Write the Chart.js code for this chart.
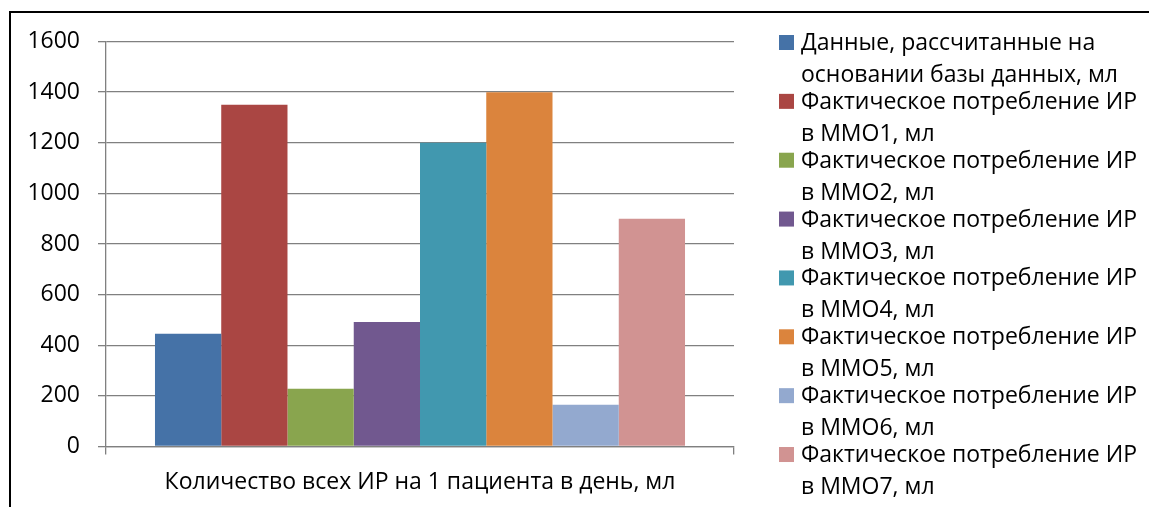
<!DOCTYPE html>
<html>
<head>
<meta charset="utf-8">
<script src="https://cdn.jsdelivr.net/npm/chart.js@4/dist/chart.umd.min.js"></script>
<style>
  html, body { margin: 0; padding: 0; background: #fff; }
  #wrap { width: 1149px; height: 507px; position: relative; }
</style>
</head>
<body>
<div id="wrap"><canvas id="c" width="1149" height="507"></canvas></div>
<script>
// ---- data ----
const categories = ['Количество всех ИР на 1 пациента в день, мл'];
const seriesLabels = [
  ['Данные, рассчитанные на', 'основании базы данных, мл'],
  ['Фактическое потребление ИР', 'в ММО1, мл'],
  ['Фактическое потребление ИР', 'в ММО2, мл'],
  ['Фактическое потребление ИР', 'в ММО3, мл'],
  ['Фактическое потребление ИР', 'в ММО4, мл'],
  ['Фактическое потребление ИР', 'в ММО5, мл'],
  ['Фактическое потребление ИР', 'в ММО6, мл'],
  ['Фактическое потребление ИР', 'в ММО7, мл']
];
const seriesValues = [445, 1350, 228, 492, 1200, 1400, 165, 900];
const yTickMin = 0, yTickMax = 1600, yTickStep = 200;

// ---- styles ----
const seriesColors = ['#4572A7', '#AA4643', '#89A54E', '#71588F', '#4198AF', '#DB843D', '#93A9CF', '#D19392'];
const FONT = "'Open Sans', 'DejaVu Sans', sans-serif";
const gridColor = '#808080';

const datasets = seriesLabels.map((lines, i) => ({
  label: lines.join(' '),
  legendLines: lines,
  data: [seriesValues[i]],
  backgroundColor: seriesColors[i],
  borderWidth: 0,
  categoryPercentage: 0.844,
  barPercentage: 1.0
}));

const frame = {
  id: 'frame',
  beforeDraw(chart) {
    const ctx = chart.ctx;
    ctx.save();
    ctx.fillStyle = '#fff';
    ctx.fillRect(0, 0, chart.width, chart.height);
    ctx.strokeStyle = '#000';
    ctx.lineWidth = 2;
    ctx.beginPath();
    ctx.moveTo(10, chart.height);
    ctx.lineTo(10, 12);
    ctx.lineTo(chart.width, 12);
    ctx.stroke();
    ctx.restore();
  }
};

const sideLegend = {
  id: 'sideLegend',
  afterDraw(chart) {
    const ctx = chart.ctx;
    ctx.save();
    ctx.font = '23px ' + FONT;
    ctx.textBaseline = 'alphabetic';
    ctx.textAlign = 'left';
    chart.data.datasets.forEach((ds, i) => {
      const y0 = 50 + i * 58.86;
      ctx.fillStyle = ds.backgroundColor;
      ctx.fillRect(779, y0 - 15, 15, 15);
      ctx.fillStyle = '#000';
      ds.legendLines.forEach((t, k) => ctx.fillText(t, 801, y0 + k * 32));
    });
    ctx.restore();
  }
};

new Chart(document.getElementById('c'), {
  type: 'bar',
  data: { labels: categories, datasets },
  plugins: [frame, sideLegend],
  options: {
    responsive: false,
    animation: false,
    layout: { padding: { left: 0, top: 41.5, right: 415, bottom: 0 } },
    plugins: { legend: { display: false }, tooltip: { enabled: false } },
    scales: {
      x: {
        grid: { display: true, drawOnChartArea: false, drawTicks: true, tickLength: 8, color: gridColor, lineWidth: 1.3 },
        border: { display: true, color: gridColor, width: 1.3 },
        ticks: { color: '#000', font: { family: FONT, size: 23 }, padding: 14 },
        afterFit(scale) { scale.height = 60.5; }
      },
      y: {
        min: yTickMin, max: yTickMax,
        grid: { color: gridColor, lineWidth: 1.3, tickLength: 8, drawTicks: true },
        border: { display: true, color: gridColor, width: 1.3 },
        ticks: { stepSize: yTickStep, color: '#000', font: { family: FONT, size: 23 }, padding: 18,
                 callback: (v) => String(v) },
        afterFit(scale) { scale.width = 106; }
      }
    }
  }
});
</script>
</body>
</html>
